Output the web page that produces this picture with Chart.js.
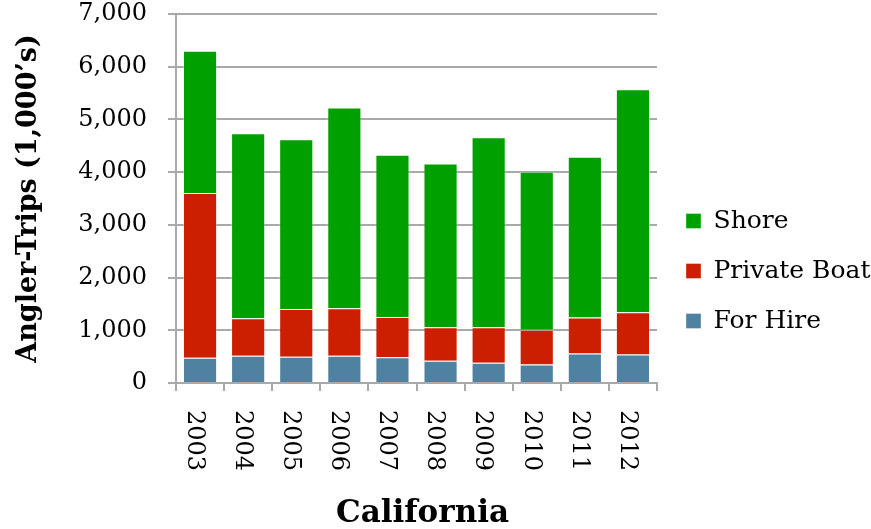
<!DOCTYPE html>
<html>
<head>
<meta charset="utf-8">
<script src="https://cdn.jsdelivr.net/npm/chart.js@4/dist/chart.umd.min.js"></script>
<style>
  html, body { margin: 0; padding: 0; background: #fff; }
  #wrap { width: 871px; height: 529px; }
</style>
</head>
<body>
<div id="wrap"><canvas id="chart" width="871" height="529"></canvas></div>
<script>
const YEARS = ['2003', '2004', '2005', '2006', '2007', '2008', '2009', '2010', '2011', '2012'];
const FOR_HIRE = [477, 515, 496, 515, 489, 420, 383, 350, 559, 540];
const PRIVATE_BOAT = [3125, 712, 909, 902, 765, 637, 674, 658, 682, 801];
const SHORE = [2701, 3512, 3220, 3807, 3074, 3106, 3606, 2998, 3049, 4231];
const Y_MAX = 7000;
const Y_STEP = 1000;
const X_TITLE = 'California';
const Y_TITLE = 'Angler-Trips (1,000’s)';

const SERIF = '"DejaVu Serif", Georgia, serif';
const GRID = '#A9A9A9';

// x labels read top-to-bottom in the reference, which Chart.js can't rotate to,
// and the axis title sits a little right of the plot centre
const xAxisText = {
  id: 'xAxisText',
  afterLayout(chart) {
    // nudge the legend right without changing the plot width
    chart.legend.left += 4;
    chart.legend.right += 4;
  },
  afterDraw(chart) {
    const xs = chart.scales.x;
    const ctx = chart.ctx;
    ctx.save();
    ctx.fillStyle = '#000';
    ctx.font = `24px ${SERIF}`;
    ctx.textAlign = 'left';
    ctx.textBaseline = 'middle';
    YEARS.forEach((yr, i) => {
      ctx.save();
      ctx.translate(xs.getPixelForTick(i) - 6, xs.top + 27);
      ctx.rotate(Math.PI / 2);
      ctx.fillText(yr, 0, 0);
      ctx.restore();
    });
    ctx.font = `bold 31px ${SERIF}`;
    ctx.textAlign = 'center';
    ctx.textBaseline = 'alphabetic';
    ctx.fillText(X_TITLE, (xs.left + xs.right) / 2 + 6, 522);
    ctx.restore();
  },
};

const edge = 'rgba(255,255,255,0.35)';

new Chart(document.getElementById('chart'), {
  type: 'bar',
  data: {
    labels: YEARS,
    datasets: [
      { label: 'For Hire', data: FOR_HIRE, backgroundColor: '#4F81A0', borderColor: edge, borderWidth: 1 },
      { label: 'Private Boat', data: PRIVATE_BOAT, backgroundColor: '#CC1E00', borderColor: edge, borderWidth: 1 },
      { label: 'Shore', data: SHORE, backgroundColor: '#00A000', borderColor: edge, borderWidth: 1 },
    ],
  },
  options: {
    responsive: false,
    animation: false,
    barPercentage: 0.71,
    categoryPercentage: 1,
    layout: { padding: { top: 14, left: 0, right: 0, bottom: 1 } },
    plugins: {
      tooltip: { enabled: false },
      legend: {
        position: 'right',
        reverse: true,
        maxWidth: 214,
        labels: {
          font: { family: SERIF, size: 25 },
          color: '#000',
          boxWidth: 15,
          boxHeight: 15,
          padding: 25,
        },
      },
    },
    scales: {
      x: {
        stacked: true,
        afterFit: (s) => { s.height = 145; },
        ticks: { display: false },
        grid: { drawOnChartArea: false, color: GRID, lineWidth: 2, tickLength: 8 },
        border: { color: GRID, width: 2 },
      },
      y: {
        stacked: true,
        min: 0,
        max: Y_MAX,
        afterFit: (s) => {
          s.width = 176;
          s.paddingTop = 0;
          s.paddingBottom = 0;
        },
        ticks: {
          stepSize: Y_STEP,
          padding: 21,
          color: '#000',
          font: { family: SERIF, size: 24 },
          callback: (v) => v.toLocaleString('en-US'),
        },
        grid: { color: GRID, lineWidth: 2, tickLength: 8 },
        border: { color: GRID, width: 2 },
        title: {
          display: true,
          text: Y_TITLE,
          font: { family: SERIF, size: 27, weight: 'bold' },
          color: '#000',
          padding: { top: 13, bottom: 0 },
        },
      },
    },
  },
  plugins: [xAxisText],
});
</script>
</body>
</html>
